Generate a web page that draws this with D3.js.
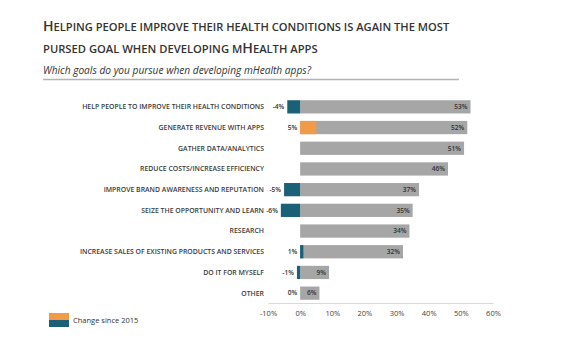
<!DOCTYPE html>
<html><head><meta charset="utf-8">
<script src="https://cdn.jsdelivr.net/npm/d3@7"></script>
<style>body{margin:0;background:#fff}svg{display:block}</style>
</head><body>
<svg id="chart" width="576" height="360"></svg>
<script>
const categories = [
  "HELP PEOPLE TO IMPROVE THEIR HEALTH CONDITIONS",
  "GENERATE REVENUE WITH APPS",
  "GATHER DATA/ANALYTICS",
  "REDUCE COSTS/INCREASE EFFICIENCY",
  "IMPROVE BRAND AWARENESS AND REPUTATION",
  "SEIZE THE OPPORTUNITY AND LEARN",
  "RESEARCH",
  "INCREASE SALES OF EXISTING PRODUCTS AND SERVICES",
  "DO IT FOR MYSELF",
  "OTHER"
];
const values2016 = [53, 52, 51, 46, 37, 35, 34, 32, 9, 6];
const changeSince2015 = [-4, 5, null, null, -5, -6, null, 1, -1, 0];
const tickValues = [-10, 0, 10, 20, 30, 40, 50, 60];
const legendLabel = "Change since 2015";

const svg = d3.select("#chart");
const font = "'Open Sans', 'Liberation Sans', sans-serif";
const TEAL = "#1a6076", ORANGE = "#f39a47", GRAY = "#a6a6a6";

// Title in small caps: separate text pieces laid out side by side, scaled to fit width
function smallCaps(y, parts, width) {
  const g = svg.append("g");
  const draw = (k) => {
    g.selectAll("*").remove();
    let cx = 43;
    parts.forEach(([s, big]) => {
      const t = g.append("text").attr("x", cx).attr("y", y)
        .attr("font-family", font).attr("font-weight", 600).attr("fill", "#333")
        .attr("font-size", (big ? 14.5 : 11.5) * k).text(s);
      cx += t.node().getComputedTextLength();
    });
    return cx - 43;
  };
  const w = draw(1);
  draw(width / w);
}
smallCaps(31, [["H", 1], ["ELPING PEOPLE IMPROVE THEIR HEALTH CONDITIONS IS AGAIN THE MOST", 0]], 407);
smallCaps(53, [["PURSED GOAL WHEN DEVELOPING M", 0], ["H", 1], ["EALTH APPS", 0]], 275);
svg.append("text").attr("x", 43).attr("y", 74).attr("font-family", font)
  .attr("font-style", "italic").attr("font-size", 10.5).attr("fill", "#333")
  .attr("textLength", 268).attr("lengthAdjust", "spacingAndGlyphs")
  .text("Which goals do you pursue when developing mHealth apps?");
svg.append("line").attr("x1", 43).attr("x2", 459).attr("y1", 79.5).attr("y2", 79.5)
  .attr("stroke", "#b3b3b3").attr("stroke-width", 1.5);

const x = d3.scaleLinear().domain([-10, 60]).range([268, 493]);
const y = d3.scaleBand().domain(categories).range([96.5, 303.5]).paddingInner(0.36).paddingOuter(0.18);

// gray bars
svg.append("g").selectAll("rect").data(categories).join("rect")
  .attr("x", x(0)).attr("y", d => y(d))
  .attr("width", (d, i) => x(values2016[i]) - x(0)).attr("height", y.bandwidth())
  .attr("fill", GRAY);

// change bars
svg.append("g").selectAll("rect").data(categories.filter((d, i) => changeSince2015[i] !== null && changeSince2015[i] !== 0)).join("rect")
  .attr("x", d => x(Math.min(0, changeSince2015[categories.indexOf(d)])))
  .attr("y", d => y(d))
  .attr("width", d => Math.abs(x(changeSince2015[categories.indexOf(d)]) - x(0)))
  .attr("height", y.bandwidth())
  .attr("fill", d => changeSince2015[categories.indexOf(d)] >= 5 ? ORANGE : TEAL);

// category labels
svg.append("g").selectAll("text").data(categories).join("text")
  .attr("x", 264).attr("y", d => y(d) + y.bandwidth() / 2).attr("dy", "0.35em")
  .attr("text-anchor", "end").attr("font-family", font).attr("font-size", 6.9)
  .attr("font-weight", 600).attr("fill", "#3a3a3a").text(d => d);

// value labels
svg.append("g").selectAll("text").data(categories).join("text")
  .attr("x", (d, i) => x(values2016[i]) - 3).attr("y", d => y(d) + y.bandwidth() / 2).attr("dy", "0.35em")
  .attr("text-anchor", "end").attr("font-family", font).attr("font-size", 6.6)
  .attr("font-weight", 600).attr("fill", "#333").text((d, i) => values2016[i] + "%");

// change labels
svg.append("g").selectAll("text").data(categories.filter((d, i) => changeSince2015[i] !== null)).join("text")
  .attr("x", d => x(Math.min(0, changeSince2015[categories.indexOf(d)])) - 3)
  .attr("y", d => y(d) + y.bandwidth() / 2).attr("dy", "0.35em")
  .attr("text-anchor", "end").attr("font-family", font).attr("font-size", 6.6)
  .attr("font-weight", 600).attr("fill", "#333").text(d => changeSince2015[categories.indexOf(d)] + "%");

// axis
const axis = svg.append("g").attr("transform", "translate(0,303)")
  .call(d3.axisBottom(x).tickValues(tickValues).tickSize(0).tickPadding(8).tickFormat(d => d + "%"));
axis.select(".domain").attr("stroke", "#d9d9d9").attr("stroke-width", 1);
axis.selectAll("text").attr("font-family", font).attr("font-size", 7.5).attr("fill", "#444");

// legend
svg.append("rect").attr("x", 49).attr("y", 313).attr("width", 20).attr("height", 7).attr("fill", ORANGE);
svg.append("rect").attr("x", 49).attr("y", 320).attr("width", 20).attr("height", 7).attr("fill", TEAL);
svg.append("text").attr("x", 73).attr("y", 320).attr("dy", "0.35em").attr("font-family", font)
  .attr("font-size", 7.5).attr("fill", "#333").text(legendLabel);
</script>
</body></html>
